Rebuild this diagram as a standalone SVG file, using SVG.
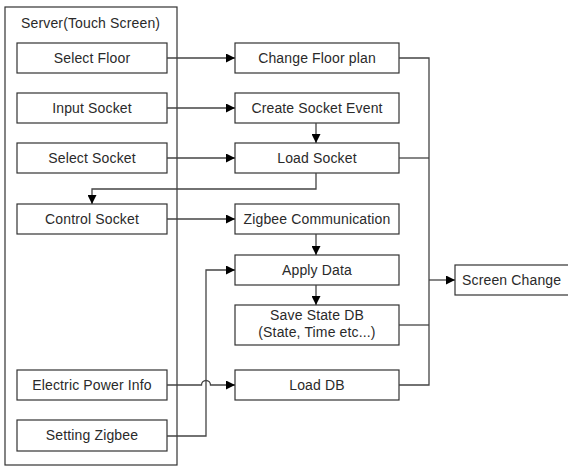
<svg xmlns="http://www.w3.org/2000/svg" width="568" height="466" viewBox="0 0 568 466">
<style>
.box{fill:#fff;stroke:#333;stroke-width:1.2}
.t{font-family:"Liberation Sans",Arial,sans-serif;font-size:14px;fill:#2a2a2a;text-anchor:middle;letter-spacing:0.15px}
.ln{fill:none;stroke:#444;stroke-width:1.3}
</style>
<defs>
<marker id="ah" viewBox="0 0 10 10" refX="10" refY="5" markerWidth="9" markerHeight="9" markerUnits="userSpaceOnUse" orient="auto">
<path d="M0,0 L10,5 L0,10 z" fill="#000"/>
</marker>
</defs>
<rect x="0" y="0" width="568" height="466" fill="#fff"/>
<g id="server">
<rect class="box" x="5" y="7" width="172" height="458"/>
<text class="t" x="21" y="28" style="text-anchor:start">Server(Touch Screen)</text>
</g>
<g id="select-floor"><rect class="box" x="17" y="43" width="150" height="30"/><text class="t" x="92" y="63">Select Floor</text></g>
<g id="input-socket"><rect class="box" x="17" y="93" width="150" height="30"/><text class="t" x="92" y="113">Input Socket</text></g>
<g id="select-socket"><rect class="box" x="17" y="143" width="150" height="30"/><text class="t" x="92" y="163">Select Socket</text></g>
<g id="control-socket"><rect class="box" x="17" y="204" width="150" height="30"/><text class="t" x="92" y="224">Control Socket</text></g>
<g id="electric-power"><rect class="box" x="17" y="370" width="150" height="30"/><text class="t" x="92" y="390">Electric Power Info</text></g>
<g id="setting-zigbee"><rect class="box" x="17" y="420" width="150" height="31"/><text class="t" x="92" y="440">Setting Zigbee</text></g>
<g id="change-floor"><rect class="box" x="235" y="43" width="164" height="30"/><text class="t" x="317" y="63">Change Floor plan</text></g>
<g id="create-socket"><rect class="box" x="235" y="93" width="164" height="30"/><text class="t" x="317" y="113">Create Socket Event</text></g>
<g id="load-socket"><rect class="box" x="235" y="143" width="164" height="30"/><text class="t" x="317" y="163">Load Socket</text></g>
<g id="zigbee-comm"><rect class="box" x="235" y="204" width="164" height="30"/><text class="t" x="317" y="224">Zigbee Communication</text></g>
<g id="apply-data"><rect class="box" x="235" y="255" width="164" height="30"/><text class="t" x="317" y="275">Apply Data</text></g>
<g id="save-state"><rect class="box" x="235" y="305" width="164" height="40"/><text class="t" x="317" y="320">Save State DB</text><text class="t" x="317" y="337">(State, Time etc...)</text></g>
<g id="load-db"><rect class="box" x="235" y="370" width="164" height="30"/><text class="t" x="317" y="390">Load DB</text></g>
<g id="screen-change"><rect class="box" x="455" y="265" width="125" height="30"/><text class="t" x="462" y="285" style="text-anchor:start">Screen Change</text></g>
<g id="connectors">
<path class="ln" d="M167,58 H235" marker-end="url(#ah)"/>
<path class="ln" d="M167,108 H235" marker-end="url(#ah)"/>
<path class="ln" d="M167,158 H235" marker-end="url(#ah)"/>
<path class="ln" d="M167,219 H235" marker-end="url(#ah)"/>
<path class="ln" d="M316,123 V143" marker-end="url(#ah)"/>
<path class="ln" d="M316,173 V189 H92 V204" marker-end="url(#ah)"/>
<path class="ln" d="M316,234 V255" marker-end="url(#ah)"/>
<path class="ln" d="M316,285 V305" marker-end="url(#ah)"/>
<path class="ln" d="M167,436 H206 V270 H235" marker-end="url(#ah)"/>
<path class="ln" d="M167,385 H201.5 A4.5,4.5 0 0 1 210.5,385 H235" marker-end="url(#ah)"/>
<path class="ln" d="M399,58 H429 V385 H399"/>
<path class="ln" d="M399,158 H429"/>
<path class="ln" d="M399,325 H429"/>
<path class="ln" d="M429,280 H455" marker-end="url(#ah)"/>
</g>
</svg>
